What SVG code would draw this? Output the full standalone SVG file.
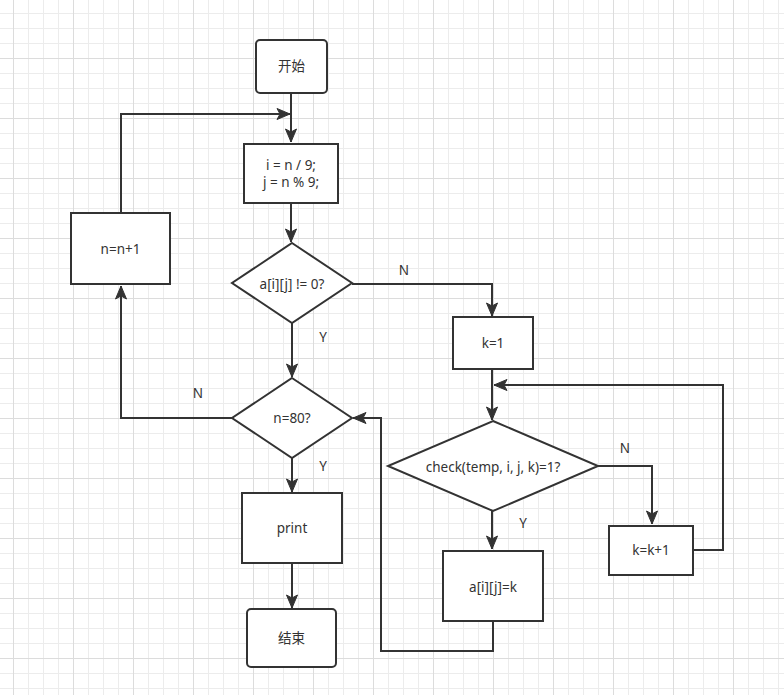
<svg xmlns="http://www.w3.org/2000/svg" width="784" height="695" viewBox="0 0 784 695">
<style>
.n{fill:#fff;stroke:#333;stroke-width:2}
.c{fill:none;stroke:#333;stroke-width:2}
text{font-family:"Noto Sans","Noto Sans CJK SC",sans-serif;font-size:13.5px;fill:#333;text-anchor:middle;dominant-baseline:central}
</style>
<defs>
<pattern id="grid" patternUnits="userSpaceOnUse" x="13" y="-2" width="60" height="60">
<rect width="60" height="60" fill="#fff"/>
<rect x="15" width="1" height="60" fill="#ececec"/>
<rect x="30" width="1" height="60" fill="#ececec"/>
<rect x="45" width="1" height="60" fill="#ececec"/>
<rect y="15" width="60" height="1" fill="#ececec"/>
<rect y="30" width="60" height="1" fill="#ececec"/>
<rect y="45" width="60" height="1" fill="#ececec"/>
<rect x="0" width="1" height="60" fill="#dcdcdc"/>
<rect y="0" width="60" height="1" fill="#dcdcdc"/>
</pattern>
<marker id="ah" markerUnits="userSpaceOnUse" markerWidth="16" markerHeight="14" viewBox="-14 -7 16 14" refX="0" refY="0" orient="auto">
<path d="M0,0 L-13,-5.5 L-10,0 L-13,5.5 Z" fill="#333" stroke="#333" stroke-width="1"/>
</marker>
</defs>
<rect width="784" height="695" fill="url(#grid)"/>
<g id="connectors">
<path class="c" d="M291,93 V142" marker-end="url(#ah)"/>
<path class="c" d="M121,213 V114 H290" marker-end="url(#ah)"/>
<path class="c" d="M291,203 V242" marker-end="url(#ah)"/>
<path class="c" d="M292,323 V377" marker-end="url(#ah)"/>
<path class="c" d="M232,418 H121 V286" marker-end="url(#ah)"/>
<path class="c" d="M352,284 H492 V316" marker-end="url(#ah)"/>
<path class="c" d="M492,369 V420" marker-end="url(#ah)"/>
<path class="c" d="M598,466 H652 V524" marker-end="url(#ah)"/>
<path class="c" d="M693,550 H723 V385 H494" marker-end="url(#ah)"/>
<path class="c" d="M492,511 V549" marker-end="url(#ah)"/>
<path class="c" d="M493,621 V651 H381 V418 H353" marker-end="url(#ah)"/>
<path class="c" d="M292,458 V492" marker-end="url(#ah)"/>
<path class="c" d="M292,563 V608" marker-end="url(#ah)"/>
<text x="323" y="337">Y</text>
<text x="198" y="393">N</text>
<text x="404" y="270">N</text>
<text x="625" y="448">N</text>
<text x="523" y="523">Y</text>
<text x="323" y="466">Y</text>
</g>
<g id="start"><rect class="n" x="256" y="40" width="71" height="53" rx="4"/><text x="291.5" y="66">开始</text></g>
<g id="assign"><rect class="n" x="244" y="144" width="94" height="59"/><text x="291" y="165">i = n / 9;</text><text x="291" y="182">j = n % 9;</text></g>
<g id="cond1"><path class="n" d="M292,243 L352,283 L292,323 L232,283 Z"/><text x="292" y="284">a[i][j] != 0?</text></g>
<g id="inc_n"><rect class="n" x="71" y="213" width="99" height="71"/><text x="120.5" y="249">n=n+1</text></g>
<g id="cond2"><path class="n" d="M292,378 L352,418 L292,458 L232,418 Z"/><text x="292" y="418">n=80?</text></g>
<g id="k1"><rect class="n" x="453" y="317" width="80" height="52"/><text x="493" y="343">k=1</text></g>
<g id="cond3"><path class="n" d="M493,421 L598,466 L493,511 L388,466 Z"/><text x="493" y="467">check(temp, i, j, k)=1?</text></g>
<g id="inc_k"><rect class="n" x="609" y="526" width="84" height="49"/><text x="651" y="550">k=k+1</text></g>
<g id="setk"><rect class="n" x="443" y="551" width="100" height="70"/><text x="493" y="587">a[i][j]=k</text></g>
<g id="print"><rect class="n" x="242" y="493" width="100" height="70"/><text x="292" y="528">print</text></g>
<g id="end"><rect class="n" x="247" y="609" width="89" height="58" rx="4"/><text x="291.5" y="638">结束</text></g>
</svg>
